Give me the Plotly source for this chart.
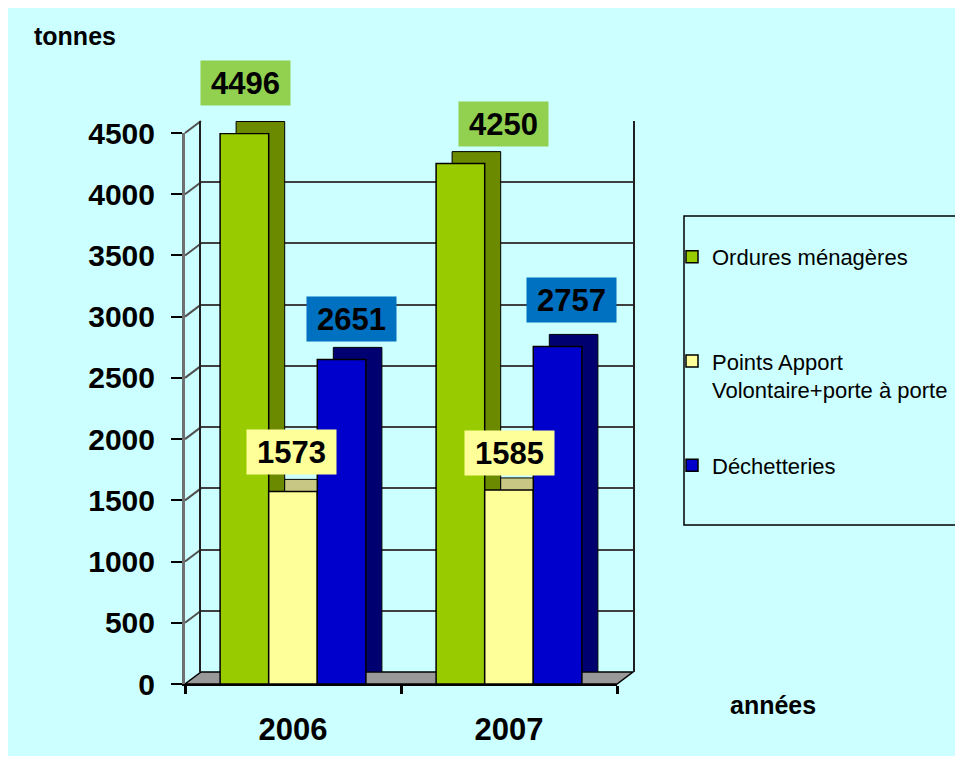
import plotly.graph_objects as go

# ---------------- data ----------------
years = ["2006", "2007"]
series_names = ["Ordures ménagères<br> ", "Points Apport<br>Volontaire+porte à porte", "Déchetteries"]
ordures = [4496, 4250]
apport_volontaire = [1573, 1585]
dechetteries = [2651, 2757]
y_ticks = [0, 500, 1000, 1500, 2000, 2500, 3000, 3500, 4000, 4500]

series_values = [ordures, apport_volontaire, dechetteries]

# ---------------- styles ----------------
front_colors = ["#99CC00", "#FFFF99", "#0000CC"]
depth_colors = ["#6B8A00", "#C8C884", "#000070"]
label_bg = ["#92D050", "#FFFF99", "#0070C0"]
# label offsets (px) relative to category centre / bar top
label_xshift = [[-48, -6], [-2, 0], [58, 62]]
label_yshift = [[50, 40], [39, 37], [40, 46]]

FONT = "Liberation Sans, Arial, sans-serif"
OFF = 8  # page body margin
W, H = 947, 748
L, T = 177, 113
PW, PH = 448, 563
R, B = W - L - PW, H - T - PH
DX, DY = 16, 12
Y_MAX = 4500


def px(x):  # page pixel -> paper
    return (x - OFF - L) / PW


def py(y):
    return (T + PH - (y - OFF)) / PH


front_xdom = [0, (PW - DX) / PW]
front_ydom = [0, (PH - DY) / PH]
back_xdom = [DX / PW, 1]
back_ydom = [DY / PH, 1]

fig = go.Figure()

# depth (back) faces
for name, vals, col in zip(series_names, series_values, depth_colors):
    fig.add_trace(go.Bar(x=years, y=vals, xaxis="x", yaxis="y",
                         marker=dict(color=col, line=dict(color="black", width=1)),
                         showlegend=False, hoverinfo="skip"))

# front faces
for i, (name, vals, col) in enumerate(zip(series_names, series_values, front_colors)):
    fig.add_trace(go.Bar(x=years, y=vals, name=name, xaxis="x2", yaxis="y2", legendgroup=f"g{i}",
                         marker=dict(color=col, line=dict(color="black", width=1.5))))

annotations = []
for i, vals in enumerate(series_values):
    for j, v in enumerate(vals):
        annotations.append(dict(
            xref="x2", yref="y2", x=j, y=v, text=f"<b>{v}</b>", showarrow=False,
            xshift=label_xshift[i][j], yshift=label_yshift[i][j],
            bgcolor=label_bg[i], width=89, height=44, borderpad=0,
            font=dict(family=FONT, size=31, color="black"), xanchor="center", yanchor="middle"))

annotations.append(dict(xref="paper", yref="paper", x=px(32), y=py(36), text="<b>tonnes</b>", showarrow=False,
                        xanchor="left", yanchor="middle", font=dict(family=FONT, size=25, color="black")))
annotations.append(dict(xref="paper", yref="paper", x=px(728), y=py(705), text="<b>années</b>", showarrow=False,
                        xanchor="left", yanchor="middle", font=dict(family=FONT, size=25, color="black")))


def front_y(v):
    return front_ydom[0] + v / Y_MAX * (front_ydom[1] - front_ydom[0])


def back_y(v):
    return back_ydom[0] + v / Y_MAX * (back_ydom[1] - back_ydom[0])


shapes = [
    # floor
    dict(type="path", xref="paper", yref="paper",
         path=f"M {front_xdom[0]},{front_ydom[0]} L {front_xdom[1]},{front_ydom[0]} "
              f"L {back_xdom[1]},{back_ydom[0]} L {back_xdom[0]},{back_ydom[0]} Z",
         fillcolor="#999999", line=dict(color="black", width=1.5), layer="below"),
    # legend frame
    dict(type="rect", xref="paper", yref="paper", x0=px(684), x1=px(990), y0=py(525), y1=py(216),
         line=dict(color="black", width=1.5), fillcolor="rgba(0,0,0,0)", layer="below"),
]
# left wall diagonal grid lines
for v in y_ticks[1:]:
    shapes.append(dict(type="line", xref="paper", yref="paper",
                       x0=front_xdom[0], y0=front_y(v), x1=back_xdom[0], y1=back_y(v),
                       line=dict(color="#505050", width=2), layer="below"))

fig.update_layout(
    width=W, height=H,
    margin=dict(l=L, r=R, t=T, b=B, autoexpand=False),
    paper_bgcolor="#CCFFFF", plot_bgcolor="rgba(0,0,0,0)",
    barmode="group", bargap=0.325, bargroupgap=0,
    font=dict(family=FONT, color="black"),
    xaxis=dict(domain=back_xdom, anchor="y", type="category", range=[-0.5, 1.5], showticklabels=False,
               showgrid=False, showline=False, zeroline=False, ticks=""),
    yaxis=dict(domain=back_ydom, anchor="x", range=[0, Y_MAX], tickvals=y_ticks, showticklabels=False,
               showgrid=True, gridcolor="#404040", gridwidth=2, zeroline=False, ticks="",
               showline=True, linecolor="#202020", linewidth=2, mirror=True),
    xaxis2=dict(domain=front_xdom, anchor="y2", type="category", range=[-0.5, 1.5],
                tickfont=dict(family=FONT, size=31, color="black", weight="bold"),
                ticks="outside", tickson="boundaries", ticklen=8, tickwidth=3, tickcolor="black",
                showline=True, linecolor="black", linewidth=2, showgrid=False, zeroline=False,
                ticklabelstandoff=17),
    yaxis2=dict(domain=front_ydom, anchor="x2", range=[0, Y_MAX], tickvals=y_ticks,
                tickfont=dict(family=FONT, size=30, color="black", weight="bold"),
                ticks="outside", ticklen=11, tickwidth=2, tickcolor="black",
                showline=True, linecolor="#707070", linewidth=3, showgrid=False, zeroline=False,
                ticklabelstandoff=10),
    legend=dict(x=px(672), y=py(236), xanchor="left", yanchor="top", bgcolor="rgba(0,0,0,0)",
                borderwidth=0, font=dict(family=FONT, size=22, color="black"), valign="top",
                tracegroupgap=44, traceorder="grouped"),
    annotations=annotations,
    shapes=shapes,
)

fig.write_html("out.html")
